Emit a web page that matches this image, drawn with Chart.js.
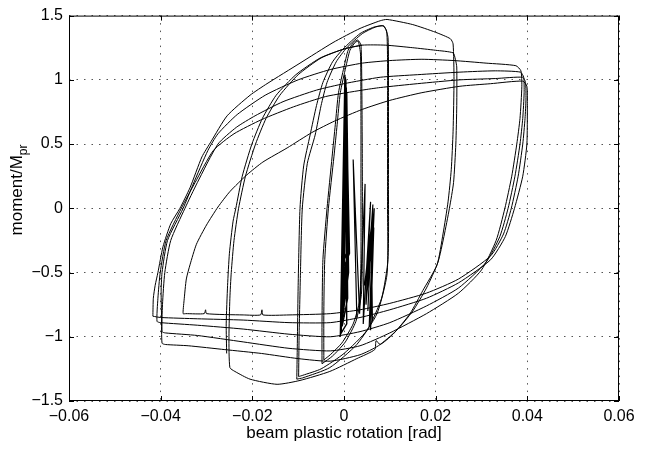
<!DOCTYPE html>
<html>
<head>
<meta charset="utf-8">
<script src="https://cdn.jsdelivr.net/npm/chart.js@4.4.1/dist/chart.umd.min.js"></script>
<style>
  html, body { margin: 0; padding: 0; background: #fff; }
  #wrap { width: 652px; height: 450px; }
</style>
</head>
<body>
<div id="wrap"><canvas id="hysteresis" width="652" height="450"></canvas></div>
<script>
// axis ticks
const xTicks = [-0.06, -0.04, -0.02, 0, 0.02, 0.04, 0.06];
const xTickLabels = ['\u22120.06', '\u22120.04', '\u22120.02', '0', '0.02', '0.04', '0.06'];
const yTicks = [-1.5, -1, -0.5, 0, 0.5, 1, 1.5];
const yTickLabels = ['\u22121.5', '\u22121', '\u22120.5', '0', '0.5', '1', '1.5'];

// [plastic rotation (rad), moment/Mpr]
const elasticCycles = [[-0.0008,-1.0],[0.0002,1.04],[0.0006,-0.9],[-0.0006,-0.97],[0.0003,1.02],[0.0008,-0.7],[-0.0004,-0.92],[0.0004,1.0],[0.0010,-0.5],[-0.0003,-0.85],[0.0004,0.97],[0.0009,-0.4],[-0.0002,-0.8],[0.0005,0.94],[0.0011,-0.3],[-0.0001,-0.75],[0.0006,0.9],[0.0010,-0.2],[0.0000,-0.6],[0.0005,0.85],[0.0012,-0.35],[-0.0005,-0.5],[0.0004,0.8],[0.0009,-0.45],[-0.0003,-0.65],[0.0006,0.75],[0.0010,-0.3],[0.0,-0.4]];

const smallCycles = [[0.0028,-0.85],[0.0020,0.38],[0.0034,-0.82],[0.0046,0.19],[0.0042,-0.90],[0.0058,0.05],[0.0048,-0.75],[0.0063,0.03],[0.0052,-0.80],[0.0061,-0.1],[0.0045,-0.6],[0.0064,-0.05],[0.0055,-0.92],[0.0066,0.0],[0.0050,-0.55],[0.0062,-0.2],[0.0058,-0.95],[0.0065,-0.15],[0.0049,-0.70],[0.0060,-0.3],[0.0062,-0.88]];

const loop1a = [[-0.0048,-1.21],[-0.0048,-0.9],[-0.0046,-0.4],[-0.0037,0.0],[-0.0026,0.4],[-0.0019,0.65],[-0.0012,0.9],[0.0000,1.1],[0.0009,1.23],[0.0021,1.29],[0.0030,1.31],[0.0037,1.27],[0.0039,0.9],[0.0040,0.3],[0.0040,-0.3],[0.0038,-0.67],[0.0026,-0.88],[0.0003,-1.04],[-0.0025,-1.15],[-0.0048,-1.21]];
const loop1b = [[-0.0044,-1.18],[-0.0044,-0.8],[-0.0042,-0.4],[-0.0034,0.0],[-0.0022,0.4],[-0.0015,0.65],[-0.0008,0.9],[0.0004,1.1],[0.0013,1.23],[0.0024,1.29],[0.0031,1.30],[0.0036,1.2],[0.0037,0.7],[0.0037,0.1],[0.0037,-0.4],[0.0034,-0.72],[0.0020,-0.9],[-0.0005,-1.05],[-0.0030,-1.14],[-0.0044,-1.18]];

const loop2a = [[-0.0103,-1.33],[-0.0102,-1.1],[-0.0100,-0.6],[-0.0096,0.0],[-0.0088,0.33],[-0.0074,0.57],[-0.0060,0.80],[-0.0046,0.98],[-0.0025,1.14],[-0.0002,1.24],[0.0035,1.36],[0.0065,1.41],[0.0085,1.42],[0.0093,1.38],[0.0095,1.15],[0.0095,0.6],[0.0095,0.0],[0.0094,-0.51],[0.0072,-0.82],[0.0028,-1.06],[-0.0031,-1.24],[-0.0090,-1.32],[-0.0103,-1.33]];
const loop2b = [[-0.0099,-1.31],[-0.0098,-1.0],[-0.0095,-0.5],[-0.0091,0.0],[-0.0080,0.35],[-0.0063,0.57],[-0.0050,0.80],[-0.0037,0.98],[-0.0017,1.14],[0.0006,1.25],[0.0040,1.36],[0.0068,1.41],[0.0087,1.42],[0.0096,1.33],[0.0097,0.9],[0.0097,0.2],[0.0096,-0.4],[0.0082,-0.7],[0.0050,-0.95],[0.0000,-1.13],[-0.0050,-1.25],[-0.0090,-1.30],[-0.0099,-1.31]];

// large cycles, branch by branch
const upperA = [[-0.0417,-0.84],[-0.0416,-0.7],[-0.0412,-0.6],[-0.0406,-0.5],[-0.0395,-0.3],[-0.0378,-0.12],[-0.0358,0.0],[-0.0336,0.16],[-0.0310,0.40],[-0.0290,0.52],[-0.0255,0.72],[-0.0205,0.88],[-0.0168,0.97],[-0.0096,1.13],[-0.0024,1.29],[0.0035,1.40],[0.0079,1.46],[0.0094,1.47],[0.0150,1.43],[0.0200,1.37],[0.0232,1.32],[0.0238,1.28]];
const lowerA = [[0.0240,1.0],[0.0238,0.6],[0.0234,0.3],[0.0227,0.05],[0.0216,-0.2],[0.0203,-0.44],[0.0172,-0.64],[0.0144,-0.82],[0.0107,-0.98],[0.0079,-1.06],[0.0070,-1.03],[0.0067,-1.10],[0.0028,-1.17],[-0.0031,-1.27],[-0.0096,-1.34],[-0.0146,-1.37],[-0.0205,-1.33],[-0.0238,-1.27],[-0.0249,-1.24]];
const upperB = [[-0.0251,-1.0],[-0.0249,-0.7],[-0.0246,-0.5],[-0.0240,-0.25],[-0.0230,0.0],[-0.0215,0.25],[-0.0193,0.5],[-0.0170,0.70],[-0.0140,0.88],[-0.0100,1.04],[-0.0050,1.17],[0.0000,1.24],[0.0040,1.27],[0.0090,1.27],[0.0150,1.25],[0.0200,1.23],[0.0238,1.21],[0.0243,1.16]];
const lowerB = [[0.0246,1.1],[0.0246,0.8],[0.0244,0.5],[0.0239,0.2],[0.0230,0.0],[0.0218,-0.22],[0.0205,-0.42],[0.0180,-0.62],[0.0150,-0.80],[0.0115,-0.95],[0.0075,-1.07],[0.0035,-1.14],[-0.0030,-1.19],[-0.0100,-1.17],[-0.0180,-1.13],[-0.0260,-1.10],[-0.0340,-1.07],[-0.0390,-1.06],[-0.0397,-1.05]];
const upperC = [[-0.0398,-0.85],[-0.0399,-0.65],[-0.0397,-0.5],[-0.0385,-0.25],[-0.0351,0.0],[-0.0330,0.18],[-0.0297,0.45],[-0.0275,0.58],[-0.0233,0.73],[-0.0172,0.88],[-0.0100,1.0],[-0.0030,1.08],[0.0040,1.13],[0.0100,1.15],[0.0170,1.16],[0.0240,1.15],[0.0310,1.13],[0.0375,1.11],[0.0386,1.07]];
const lowerC = [[0.0388,0.95],[0.0384,0.7],[0.0377,0.5],[0.0366,0.25],[0.0351,0.0],[0.0332,-0.25],[0.0300,-0.48],[0.0250,-0.66],[0.0180,-0.82],[0.0100,-0.97],[0.0035,-1.07],[-0.0030,-1.11],[-0.0120,-1.09],[-0.0220,-1.04],[-0.0320,-0.99],[-0.0390,-0.97],[-0.0397,-0.96]];
const upperD = [[-0.0396,-0.75],[-0.0391,-0.5],[-0.0378,-0.25],[-0.0347,0.0],[-0.0320,0.2],[-0.0275,0.5],[-0.0235,0.63],[-0.0194,0.72],[-0.0133,0.83],[-0.0060,0.92],[0.0000,0.97],[0.0079,1.02],[0.0160,1.04],[0.0253,1.06],[0.0330,1.07],[0.0385,1.06],[0.0392,1.02]];
const lowerD = [[0.0393,0.9],[0.0390,0.7],[0.0384,0.5],[0.0373,0.25],[0.0358,0.0],[0.0340,-0.22],[0.0310,-0.42],[0.0250,-0.62],[0.0180,-0.76],[0.0100,-0.89],[0.0035,-0.96],[-0.0030,-1.0],[-0.0120,-0.98],[-0.0220,-0.94],[-0.0320,-0.91],[-0.0400,-0.89],[-0.0408,-0.88]];
const upperE = [[-0.0406,-0.7],[-0.0401,-0.5],[-0.0388,-0.25],[-0.0355,0.0],[-0.0325,0.2],[-0.0285,0.45],[-0.0240,0.58],[-0.0180,0.69],[-0.0110,0.79],[-0.0040,0.87],[0.0040,0.92],[0.0079,0.94],[0.0160,0.97],[0.0253,1.0],[0.0330,1.01],[0.0390,1.02],[0.0396,0.98]];
const lowerE = [[0.0397,0.85],[0.0395,0.7],[0.0390,0.5],[0.0380,0.25],[0.0365,0.0],[0.0348,-0.2],[0.0320,-0.37],[0.0250,-0.55],[0.0180,-0.66],[0.0100,-0.74],[0.0035,-0.79],[-0.0030,-0.82],[-0.0120,-0.83],[-0.0177,-0.83],[-0.0179,-0.79],[-0.0182,-0.83],[-0.0220,-0.83],[-0.0300,-0.82],[-0.0302,-0.79],[-0.0305,-0.82],[-0.0345,-0.82],[-0.0351,-0.82]];
const upperF = [[-0.0349,-0.72],[-0.0344,-0.55],[-0.0336,-0.44],[-0.0322,-0.28],[-0.0300,-0.13],[-0.0275,0.01],[-0.0249,0.13],[-0.0212,0.26],[-0.0177,0.36],[-0.0124,0.47],[-0.0070,0.59],[-0.0020,0.68],[0.0040,0.77],[0.0100,0.84],[0.0170,0.90],[0.0253,0.95],[0.0320,0.97],[0.0390,0.99],[0.0399,0.95]];
const lowerF = [[0.0400,0.8],[0.0399,0.5],[0.0390,0.25],[0.0372,0.0],[0.0352,-0.22],[0.0320,-0.40],[0.0250,-0.58],[0.0180,-0.70],[0.0100,-0.79],[0.0035,-0.85],[-0.0030,-0.89],[-0.0120,-0.89],[-0.0220,-0.87],[-0.0320,-0.86],[-0.0400,-0.85],[-0.0417,-0.84]];

// second reloading from the -0.025 corner
const upperB2 = [[-0.0256,-1.13],[-0.0257,-0.9],[-0.0254,-0.6],[-0.0250,-0.35],[-0.0242,-0.1],[-0.0236,0.0],[-0.0222,0.25],[-0.0201,0.5],[-0.0178,0.7],[-0.0148,0.88],[-0.0105,1.04],[-0.0052,1.17],[0.0,1.24],[0.0040,1.27]];

const largeCycles = [].concat(upperA, lowerA, upperB, lowerB, upperC, lowerC, upperD, lowerD, upperE, lowerE, upperF, lowerF);

function toPoints(arr) {
    return arr.map(p => ({ x: p[0], y: p[1] }));
}

function curve(arr, tension, width) {
    return {
        data: toPoints(arr),
        showLine: true,
        borderColor: '#000',
        borderWidth: width || 1,
        pointRadius: 0,
        tension: tension,
        fill: false
    };
}

Chart.defaults.font.family = "'Liberation Sans', Arial, sans-serif";
Chart.defaults.color = '#000';

// box, inward tick marks and axis titles, matlab style
const framePlugin = {
    id: 'frame',
    afterDraw(chart) {
        const ctx = chart.ctx;
        const { left, right, top, bottom } = chart.chartArea;
        const xs = chart.scales.x, ys = chart.scales.y;
        ctx.save();
        ctx.strokeStyle = '#000';
        ctx.lineWidth = 1;
        ctx.setLineDash([]);
        ctx.strokeRect(left + 0.5, top + 0.5, right - left - 1, bottom - top - 1);
        ctx.beginPath();
        xTicks.forEach(v => {
            const px = Math.round(xs.getPixelForValue(v)) + 0.5;
            ctx.moveTo(px, bottom); ctx.lineTo(px, bottom - 5);
            ctx.moveTo(px, top); ctx.lineTo(px, top + 5);
        });
        yTicks.forEach(v => {
            const py = Math.round(ys.getPixelForValue(v)) + 0.5;
            ctx.moveTo(left, py); ctx.lineTo(left + 5, py);
            ctx.moveTo(right, py); ctx.lineTo(right - 5, py);
        });
        ctx.stroke();

        ctx.fillStyle = '#000';
        ctx.font = "17px 'Liberation Sans', Arial, sans-serif";
        ctx.textAlign = 'center';
        ctx.textBaseline = 'middle';
        ctx.fillText('beam plastic rotation [rad]', (left + right) / 2, 433);

        // y title with subscript
        const main = 'moment/M', sub = 'pr';
        ctx.font = "17px 'Liberation Sans', Arial, sans-serif";
        const wMain = ctx.measureText(main).width;
        ctx.font = "12px 'Liberation Sans', Arial, sans-serif";
        const wSub = ctx.measureText(sub).width;
        const total = wMain + wSub;
        ctx.translate(22, 190);
        ctx.rotate(-Math.PI / 2);
        ctx.textAlign = 'left';
        ctx.textBaseline = 'alphabetic';
        ctx.font = "17px 'Liberation Sans', Arial, sans-serif";
        ctx.fillText(main, -total / 2, 0);
        ctx.font = "12px 'Liberation Sans', Arial, sans-serif";
        ctx.fillText(sub, -total / 2 + wMain, 5);
        ctx.restore();
    }
};

new Chart(document.getElementById('hysteresis').getContext('2d'), {
    type: 'scatter',
    data: {
        datasets: [
            curve(elasticCycles, 0, 1.4),
            curve(smallCycles, 0, 1.2),
            curve(loop1a, 0.2),
            curve(loop1b, 0.2),
            curve(loop2a, 0.2),
            curve(loop2b, 0.2),
            curve(upperB2, 0.2),
            curve(largeCycles, 0.2)
        ]
    },
    options: {
        responsive: false,
        animation: false,
        devicePixelRatio: 1,
        layout: { padding: { top: 14, right: 33, bottom: 0, left: 0 } },
        plugins: {
            legend: { display: false },
            tooltip: { enabled: false }
        },
        scales: {
            x: {
                type: 'linear',
                min: -0.06,
                max: 0.06,
                afterBuildTicks: s => { s.ticks = xTicks.map(v => ({ value: v })); },
                afterFit: s => { s.height = 49; },
                ticks: {
                    callback: v => xTickLabels[xTicks.indexOf(v)],
                    font: { size: 16 },
                    color: '#000',
                    padding: 6,
                    maxRotation: 0,
                    autoSkip: false
                },
                grid: { color: '#555', lineWidth: 1, drawTicks: false },
                border: { display: false, dash: [1.5, 6] }
            },
            y: {
                type: 'linear',
                min: -1.5,
                max: 1.5,
                afterBuildTicks: s => { s.ticks = yTicks.map(v => ({ value: v })); },
                afterFit: s => { s.width = 69; },
                ticks: {
                    callback: v => yTickLabels[yTicks.indexOf(v)],
                    font: { size: 16 },
                    color: '#000',
                    padding: 6,
                    autoSkip: false
                },
                grid: { color: '#555', lineWidth: 1, drawTicks: false },
                border: { display: false, dash: [1.5, 6] }
            }
        }
    },
    plugins: [framePlugin]
});

console.log("chart ready");
</script>
</body>
</html>
